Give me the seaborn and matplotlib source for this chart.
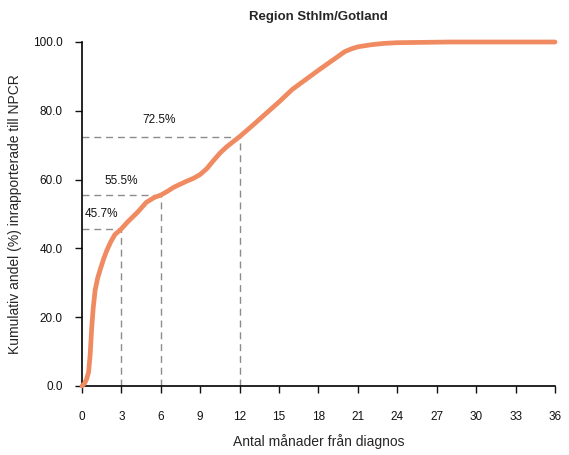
import numpy as np
import pandas as pd
import seaborn as sns
import matplotlib.pyplot as plt

# cumulative share
months = [0.0, 0.2, 0.35, 0.5, 0.62, 0.74, 0.85, 1.0, 1.2, 1.4, 1.65, 1.9, 2.2, 2.5, 2.8, 3.0,
          3.5, 4.2, 4.9, 5.5, 6.0, 6.5, 7.0, 7.5, 8.0, 8.5, 9.0, 9.5, 10.0, 10.5,
          11.0, 11.5, 12.0, 13.0, 14.0, 15.0, 16.0, 17.0, 18.0, 19.0, 20.0, 20.5,
          21.0, 22.0, 23.0, 24.0, 26.0, 28.0, 30.0, 33.0, 36.0]
share = [0.0, 0.8, 2.0, 4.0, 9.0, 17.0, 22.5, 27.9, 31.5, 34.0, 37.0, 39.5, 42.0, 44.0, 45.0, 45.7,
         47.8, 50.4, 53.4, 54.8, 55.5, 56.6, 57.8, 58.7, 59.6, 60.4, 61.5, 63.2, 65.5, 67.7,
         69.5, 71.0, 72.5, 75.8, 79.2, 82.6, 86.2, 89.0, 91.8, 94.5, 97.2, 98.0,
         98.6, 99.2, 99.6, 99.8, 99.9, 100.0, 100.0, 100.0, 100.0]

marks_x = [3, 6, 12]
marks_y = [45.7, 55.5, 72.5]
mark_labels = ["45.7%", "55.5%", "72.5%"]
label_pos = [(1.45, 50.0), (3.0, 59.6), (5.9, 77.3)]

df = pd.DataFrame({"month": months, "share": share})

sns.set_theme(style="ticks")
plt.rcParams["font.family"] = ["Liberation Sans", "DejaVu Sans"]

fig = plt.figure(figsize=(5.69, 4.55), dpi=100)
ax = fig.add_axes([82 / 569, 1 - 386 / 455, 473 / 569, 344 / 455])

# dashed guides
for mx, my in zip(marks_x, marks_y):
    ax.plot([0, mx], [my, my], ls=(0, (5, 3.5)), color="#8c8c8c", lw=1.0, zorder=1)
    ax.plot([mx, mx], [0, my], ls=(0, (5, 3.5)), color="#8c8c8c", lw=1.0, zorder=1)
for (tx, ty), lab in zip(label_pos, mark_labels):
    ax.text(tx, ty, lab, ha="center", va="center", fontsize=8.5, color="#111111")

sns.lineplot(data=df, x="month", y="share", ax=ax, color="#F08A60", lw=3.4,
             solid_capstyle="round", zorder=3, clip_on=False)

ax.set_xlim(0, 36)
ax.set_ylim(0, 100)
ax.set_xticks(range(0, 37, 3))
ax.set_yticks(range(0, 101, 20))
ax.set_yticklabels([f"{v:.1f}" for v in range(0, 101, 20)])
ax.tick_params(axis="both", labelsize=8.5, length=5, width=1, colors="#111111")
ax.tick_params(axis="x", pad=13)
ax.tick_params(axis="y", pad=9)
sns.despine(ax=ax)
for s in ["left", "bottom"]:
    ax.spines[s].set_linewidth(1.2)
    ax.spines[s].set_color("black")

ax.set_xlabel("Antal månader från diagnos", fontsize=10, labelpad=8)
ax.set_ylabel("Kumulativ andel (%) inrapporterade till NPCR", fontsize=10, labelpad=8)
ax.set_title("Region Sthlm/Gotland", fontsize=9.5, fontweight="bold", pad=16)

fig.savefig("out.png", dpi=100)
plt.close()
